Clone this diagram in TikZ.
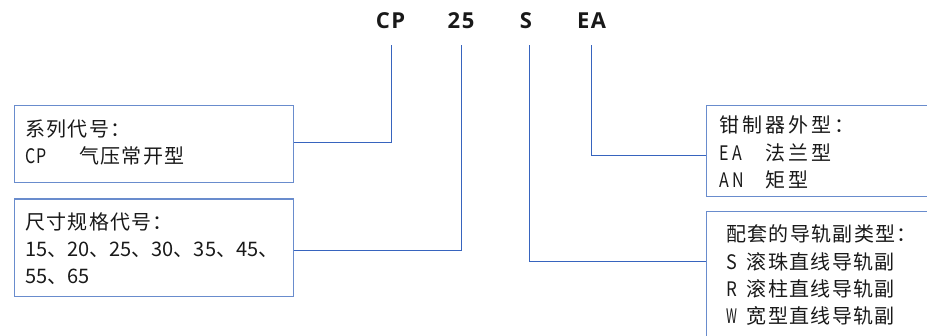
\documentclass[tikz,border=0pt]{standalone}
\usepackage{fontspec}
\setmainfont{Noto Sans CJK SC}
\newfontfamily\headfont{Open Sans}
\definecolor{boxcol}{RGB}{105,140,205}
\definecolor{conncol}{RGB}{55,100,190}
\definecolor{txtcol}{RGB}{25,25,25}
\newlength\lsamt
\def\lsA#1#2{#1\ifx#2\relax\else\hspace{\lsamt}\expandafter\lsA\expandafter#2\fi}
\newcommand\spaced[2]{\setlength\lsamt{#1}\lsA#2\relax}
\newcommand\nrw[2][0.8]{\scalebox{#1}[1]{#2}}
\tikzset{
  boxnode/.style={draw=boxcol, line width=1.3pt, rectangle, inner sep=0pt, anchor=north west},
  conn/.style={draw=conncol, line width=1pt},
  head/.style={font=\headfont\bfseries\fontsize{22}{24}\selectfont, text=txtcol, anchor=base, inner sep=0pt},
  txt/.style={font=\fontsize{20}{27}\selectfont, text=txtcol, anchor=base west, inner sep=0pt},
}
\begin{document}
\begin{tikzpicture}[x=1pt,y=-1pt]
\useasboundingbox (0,0) rectangle (927,335);
\clip (0,0) rectangle (927,335);
% heading
\node[head] (hcp) at (390.5,28.3) {\spaced{1.5pt}{CP}};
\node[head] (h25) at (461,28.3) {\spaced{1.5pt}{25}};
\node[head] (hs)  at (526,28.3) {S};
\node[head] (hea) at (591.5,28.3) {\spaced{1.5pt}{EA}};
% boxes
\node[boxnode, minimum width=279pt, minimum height=77pt] (b1) at (14,104.5) {};
\node[boxnode, minimum width=279pt, minimum height=97.7pt] (b2) at (14,198.3) {};
\node[boxnode, minimum width=260pt, minimum height=91pt] (b3) at (706,105) {};
\node[boxnode, minimum width=260pt, minimum height=150pt] (b4) at (706,211) {};
% texts box 1
\node[txt] (t1a) at (25,136.3) {\spaced{1.3pt}{系列代号：}};
\node[txt] (t1b) at (25,163.3) {\makebox[54pt][l]{\nrw{C}\hspace{1pt}\nrw{P}}\spaced{1.3pt}{气压常开型}};
% texts box 2
\node[txt] (t2a) at (25,229.3) {\spaced{1.3pt}{尺寸规格代号：}};
\node[txt] (t2b) at (25,256.3) {15、20、25、30、35、45、};
\node[txt] (t2c) at (25,283.8) {55、65};
% texts box 3
\node[txt] (t3a) at (719,132.5) {\spaced{3pt}{钳制器外型：}};
\node[txt] (t3b) at (719,160.5) {\makebox[46pt][l]{\nrw{E}\hspace{4pt}\nrw{A}}\spaced{3pt}{法兰型}};
\node[txt] (t3c) at (719,187.5) {\makebox[46pt][l]{\nrw{A}\hspace{4pt}\nrw{N}}\spaced{3pt}{矩型}};
% texts box 4
\node[txt] (t4a) at (726,241.3) {\spaced{1.3pt}{配套的导轨副类型：}};
\node[txt] (t4b) at (726,269.3) {\makebox[20.7pt][l]{\nrw[0.9]{S}}\spaced{1.3pt}{滚珠直线导轨副}};
\node[txt] (t4c) at (726,296.8) {\makebox[20.7pt][l]{\nrw[0.85]{R}}\spaced{1.3pt}{滚柱直线导轨副}};
\node[txt] (t4d) at (726,323.8) {\makebox[20.7pt][l]{\nrw[0.62]{W}}\spaced{1.3pt}{宽型直线导轨副}};
% connectors
\coordinate (c1) at (391,45);
\coordinate (c2) at (461.7,45);
\coordinate (c3) at (529.7,45);
\coordinate (c4) at (591.7,45);
\coordinate (k1) at (391,142.7);
\coordinate (k2) at (461.7,250);
\coordinate (k3) at (529.7,261);
\coordinate (k4) at (591.7,155.3);
\draw[conn] (c1) -- (k1) -- (k1 -| b1.east);
\draw[conn] (c2) -- (k2) -- (k2 -| b2.east);
\draw[conn] (c3) -- (k3) -- (k3 -| b4.west);
\draw[conn] (c4) -- (k4) -- (k4 -| b3.west);
\end{tikzpicture}
\end{document}
